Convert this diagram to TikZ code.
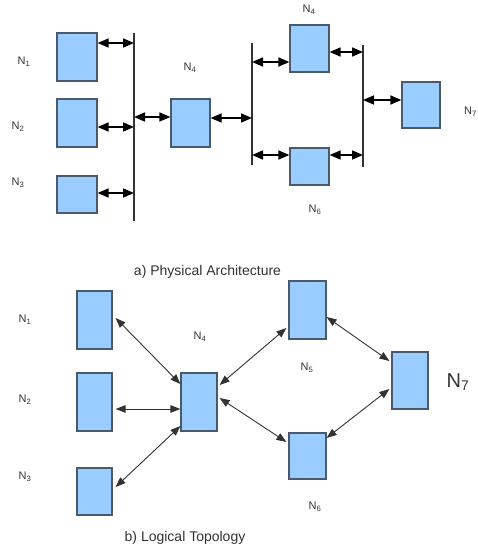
\documentclass[tikz,border=0pt]{standalone}
\usepackage{fontspec}
\setmainfont{Liberation Sans}
\usetikzlibrary{arrows.meta}
\definecolor{boxfill}{HTML}{99CCFF}
\definecolor{boxline}{HTML}{4A5A6A}
\definecolor{txt}{HTML}{333333}
\begin{document}
\begin{tikzpicture}[x=1pt,y=-1pt,
  blk/.style={draw=boxline,fill=boxfill,line width=1.2pt,inner sep=0pt,minimum width=#1},
  blk/.default=39pt,
  lbl/.style={text=txt,font=\fontsize{11}{12}\selectfont,inner sep=0pt},
  captxt/.style={text=txt,font=\fontsize{14}{16}\selectfont,inner sep=0pt},
  bus/.style={draw=txt,line width=1.1pt},
  parr/.style={black,line width=1.6pt,{Triangle[length=11pt,width=9pt]}-{Triangle[length=11pt,width=9pt]}},
  larr/.style={draw=txt,line width=0.9pt,{Triangle[length=10pt,width=7.5pt]}-{Triangle[length=10pt,width=7.5pt]}}
]
\useasboundingbox (0,0) rectangle (477,553);
\fill[white] (0,0) rectangle (477,553);

% ---------- a) Physical Architecture ----------
\node[blk=40pt,minimum height=48pt] (t1) at (77,57) {};
\node[blk=40pt,minimum height=48pt] (t2) at (77,123) {};
\node[blk=40pt,minimum height=37pt] (t3) at (77,194.5) {};
\node[blk=39pt,minimum height=48pt] (t4) at (190.5,123) {};
\node[blk=39pt,minimum height=47pt] (t5) at (309.5,48.5) {};
\node[blk=39pt,minimum height=37pt] (t6) at (309.5,166.5) {};
\node[blk=38pt,minimum height=46pt] (t7) at (421,105) {};

\coordinate (b1a) at (134,33);  \coordinate (b1b) at (134,221);
\coordinate (b2a) at (252,43);  \coordinate (b2b) at (252,165);
\coordinate (b3a) at (363,45);  \coordinate (b3b) at (363,167);
\draw[bus] (b1a) -- (b1b);
\draw[bus] (b2a) -- (b2b);
\draw[bus] (b3a) -- (b3b);

\draw[parr] (t1.east |- 0,43) -- (b1a |- 0,43);
\draw[parr] (t2.east |- 0,127) -- (b1a |- 0,127);
\draw[parr] (t3.east |- 0,193) -- (b1a |- 0,193);
\draw[parr] (b1a |- 0,117) -- (t4.west |- 0,117);
\draw[parr] (t4.east |- 0,118) -- (b2a |- 0,118);
\draw[parr] (b2a |- 0,62) -- (t5.west |- 0,62);
\draw[parr] (t5.east |- 0,52) -- (b3a |- 0,52);
\draw[parr] (b2a |- 0,155) -- (t6.west |- 0,155);
\draw[parr] (t6.east |- 0,155) -- (b3a |- 0,155);
\draw[parr] (b3a |- 0,100) -- (t7.west |- 0,100);

\node[lbl] (lt1) at (24,62) {N\textsubscript{1}};
\node[lbl] (lt2) at (18,127) {N\textsubscript{2}};
\node[lbl] (lt3) at (18,183) {N\textsubscript{3}};
\node[lbl] (lt4) at (190,68) {N\textsubscript{4}};
\node[lbl] (lt5) at (309,10) {N\textsubscript{4}};
\node[lbl] (lt6) at (315,210) {N\textsubscript{6}};
\node[lbl,anchor=west] (lt7) at (464,112) {N\textsubscript{7}};

\node[captxt] (capa) at (207.5,272) {a) Physical Architecture};

% ---------- b) Logical Topology ----------
\node[blk=35pt,minimum height=58pt] (n1) at (94.5,320) {};
\node[blk=35pt,minimum height=58pt] (n2) at (94.5,402) {};
\node[blk=35pt,minimum height=47pt] (n3) at (94.5,491.5) {};
\node[blk=36pt,minimum height=58pt] (n4) at (199,402) {};
\node[blk=37pt,minimum height=58pt] (n5) at (307.5,310) {};
\node[blk=37pt,minimum height=46pt] (n6) at (307.5,456) {};
\node[blk=36pt,minimum height=57pt] (n7) at (410,380.5) {};

\draw[larr] ([xshift=3pt]n1.east |- 0,318) -- (n4.west |- 0,384);
\draw[larr] ([xshift=3pt]n2.east |- 0,409) -- (n4.west |- 0,409);
\draw[larr] ([xshift=3pt]n3.east |- 0,487) -- (n4.west |- 0,426);
\draw[larr] ([xshift=2pt]n4.east |- 0,385) -- ([xshift=-2pt]n5.west |- 0,328);
\draw[larr] ([xshift=2pt]n4.east |- 0,398) -- ([xshift=-2pt]n6.west |- 0,442);
\draw[larr] (n5.east |- 0,317) -- ([xshift=-2pt]n7.west |- 0,361);
\draw[larr] (n6.east |- 0,438) -- ([xshift=-2pt]n7.west |- 0,389);

\node[lbl] (ln1) at (25,320) {N\textsubscript{1}};
\node[lbl] (ln2) at (25,400) {N\textsubscript{2}};
\node[lbl] (ln3) at (25,477) {N\textsubscript{3}};
\node[lbl] (ln4) at (200,337) {N\textsubscript{4}};
\node[lbl] (ln5) at (307,368) {N\textsubscript{5}};
\node[lbl] (ln6) at (315,507) {N\textsubscript{6}};
\node[text=txt,font=\fontsize{20}{22}\selectfont,inner sep=0pt] (ln7) at (458,382) {N\textsubscript{7}};

\node[captxt] (capb) at (185,538) {b) Logical Topology};
\end{tikzpicture}
\end{document}
